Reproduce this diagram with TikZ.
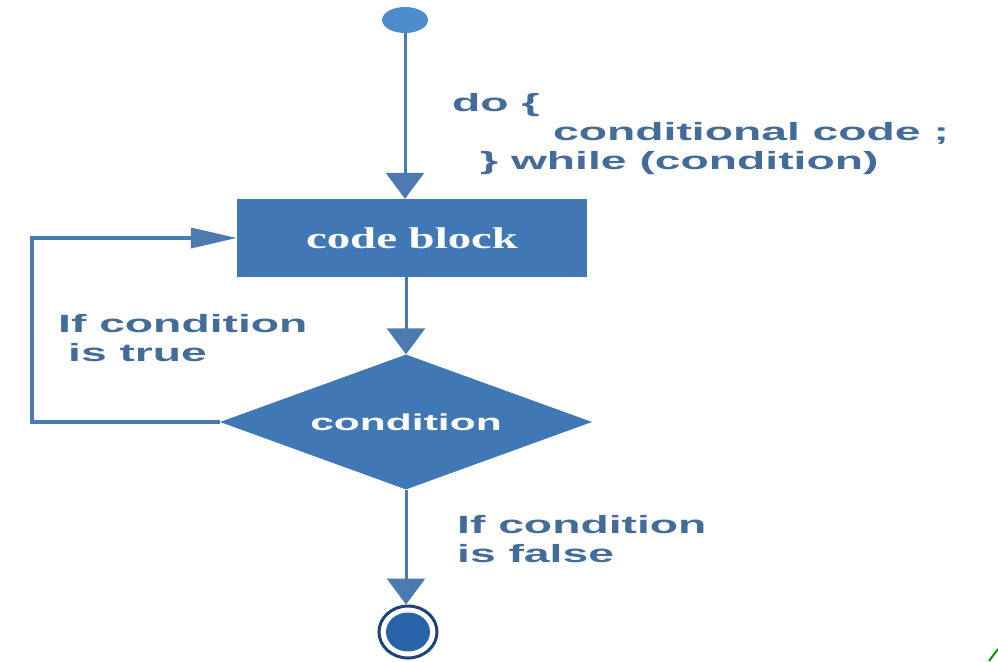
\documentclass[tikz,border=0pt]{standalone}
\usepackage{fontspec}
\usetikzlibrary{shapes.geometric, arrows.meta}

\newfontfamily\labelfont{Liberation Sans}[FakeStretch=1.85]
\newfontfamily\blockfont{Liberation Serif}[FakeStretch=1.56]

\definecolor{flowblue}{RGB}{63,120,180}
\definecolor{lineblue}{RGB}{74,122,175}
\definecolor{textblue}{RGB}{68,108,152}
\definecolor{startblue}{RGB}{79,140,205}
\definecolor{stopring}{RGB}{32,66,110}
\definecolor{stopblue}{RGB}{42,100,168}

\begin{document}
\begin{tikzpicture}[x = 1pt, y = -1pt,
    flow/.style = {draw = lineblue, line width = 3pt, -{Triangle[width = 38pt, length = 26pt]}},
    back/.style = {draw = lineblue, line width = 3.5pt, -{Triangle[width = 20pt, length = 46pt]}},
    flowtext/.style = {text = textblue, align = left, inner sep = 0pt,
        font = \labelfont\bfseries\fontsize{25}{29}\selectfont}]
    \useasboundingbox (0, 0) rectangle (998, 661);

    % start and stop
    \node[ellipse, fill = startblue, minimum width = 46pt, minimum height = 26pt, inner sep = 0pt] (start) at (405, 20) {};
    \node[ellipse, draw = stopring, fill = white, line width = 3pt, minimum width = 58pt, minimum height = 52pt, inner sep = 0pt] (stop) at (408, 632) {};
    \node[ellipse, fill = stopblue, minimum width = 44pt, minimum height = 39pt, inner sep = 0pt] (stopcore) at (stop) {};

    % code block and condition
    \node[rectangle, fill = flowblue, minimum width = 350pt, minimum height = 78pt, text = white,
        font = \blockfont\bfseries\fontsize{30}{32}\selectfont] (block) at (412, 238) {code block};
    \node[diamond, aspect = 2.76, fill = flowblue, minimum width = 372pt, minimum height = 135pt, inner sep = 0pt,
        text = white, font = \labelfont\bfseries\fontsize{23}{26}\selectfont] (cond) at (406, 422) {condition};

    % arrows
    \draw[flow] (start) -- (start |- block.north);
    \draw[flow] (block.south -| cond) -- (cond.north);
    \draw[flow] (cond.south) -- (cond.south |- stop.north);
    \draw[back] (cond.west) -- ++(-188, 0) |- (block.west);

    % texts
    \node[flowtext, anchor = north west] (dowhile) at (452, 93) {do \{\\\hspace*{101pt}conditional code ;\\\hspace*{28pt}\} while (condition)};
    \node[flowtext, anchor = north west] (iftrue) at (58, 314) {If condition\\\hspace*{10pt}is true};
    \node[flowtext, anchor = north west] (iffalse) at (457, 515) {If condition\\is false};

    % corner mark
    \draw[green!60!black, line width = 2pt] (989, 661) -- (998, 649);
\end{tikzpicture}
\end{document}
